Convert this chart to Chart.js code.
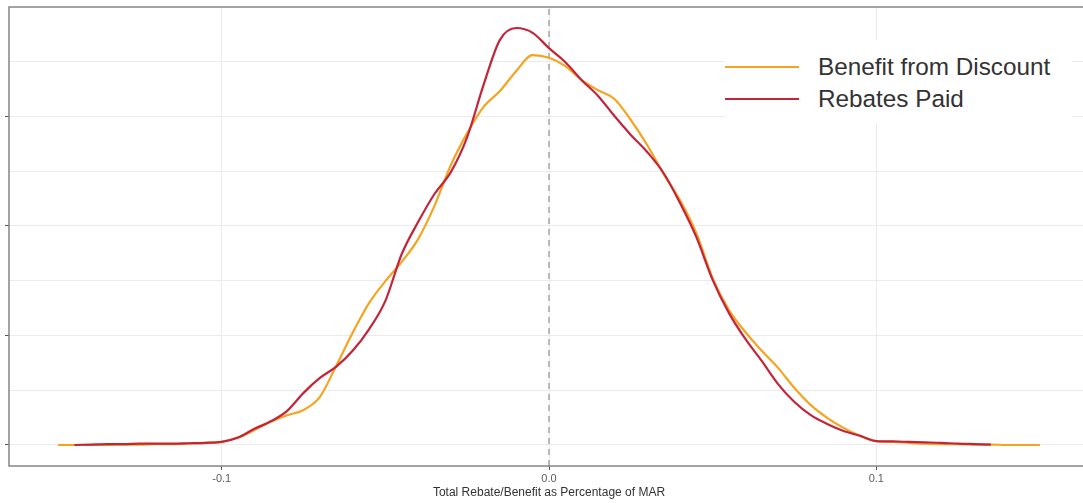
<!DOCTYPE html>
<html>
<head>
<meta charset="utf-8">
<script src="https://cdn.jsdelivr.net/npm/chart.js@4.4.0/dist/chart.umd.min.js"></script>
<style>
  html, body { margin: 0; padding: 0; background: #fff; overflow: hidden; }
  #wrap { position: relative; width: 1095px; height: 503px; }
  #legend { position: absolute; left: 725px; top: 40px; width: 347px; height: 83px; background: #fff;
            font-family: "Liberation Sans", Arial, sans-serif; font-size: 24.3px; color: #333; }
  #legend .row { position: absolute; left: 0; height: 32px; line-height: 32px; white-space: nowrap; }
  #legend .key { position: absolute; left: 0; top: 15px; width: 74px; height: 2px; }
  #legend .lbl { position: absolute; left: 93px; top: 0; }
</style>
</head>
<body>
<div id="wrap">
  <canvas id="densityChart" width="1095" height="503"></canvas>
  <div id="legend"></div>
</div>
<script>
// x positions (share of MAR) where the two density curves were read
var xValues = [-0.150, -0.145, -0.140, -0.135, -0.130, -0.125, -0.120, -0.115, -0.110, -0.105,
               -0.100, -0.095, -0.090, -0.085, -0.080, -0.075, -0.070, -0.065, -0.060, -0.055,
               -0.050, -0.045, -0.040, -0.035, -0.030, -0.025, -0.020, -0.015, -0.010, -0.005,
                0.000,  0.005,  0.010,  0.015,  0.020,  0.025,  0.030,  0.035,  0.040,  0.045,
                0.050,  0.055,  0.060,  0.065,  0.070,  0.075,  0.080,  0.085,  0.090,  0.095,
                0.100,  0.105,  0.110,  0.115,  0.120,  0.125,  0.130,  0.135,  0.140,  0.145,
                0.150];

var benefitFromDiscount = [0.00, 0.00, 0.00, 0.00, 0.01, 0.01, 0.02, 0.02, 0.03, 0.05,
                           0.07, 0.17, 0.34, 0.53, 0.68, 0.80, 1.10, 1.81, 2.56, 3.24,
                           3.74, 4.18, 4.70, 5.46, 6.39, 7.12, 7.72, 8.08, 8.54, 8.90,
                           8.84, 8.65, 8.33, 8.10, 7.90, 7.42, 6.85, 6.19, 5.59, 4.84,
                           3.81, 3.08, 2.58, 2.15, 1.76, 1.30, 0.91, 0.62, 0.39, 0.21,
                           0.09, 0.07, 0.05, 0.03, 0.02, 0.02, 0.01, 0.01, 0.00, 0.00,
                           0.00];

var rebatesPaid = [null, 0.00, 0.01, 0.02, 0.02, 0.03, 0.03, 0.03, 0.04, 0.05,
                   0.07, 0.17, 0.37, 0.54, 0.78, 1.19, 1.53, 1.79, 2.15, 2.64,
                   3.29, 4.36, 5.09, 5.73, 6.23, 7.03, 8.22, 9.25, 9.52, 9.41,
                   9.06, 8.74, 8.33, 7.97, 7.51, 7.08, 6.69, 6.21, 5.53, 4.75,
                   3.77, 3.01, 2.42, 1.92, 1.39, 0.98, 0.68, 0.48, 0.32, 0.21,
                   0.09, 0.08, 0.07, 0.06, 0.05, 0.03, 0.02, 0.01, null, null,
                   null];

var seriesNames = ['Benefit from Discount', 'Rebates Paid'];
var seriesColors = ['#f6a41f', '#c4243a'];

var xMin = -0.165, xMax = 0.165;
var yMin = -0.48, yMax = 10.0;
var xGridValues = [-0.15, -0.1, -0.05, 0, 0.05, 0.1, 0.15];
var xTickValues = [-0.1, 0, 0.1];
var xTickLabels = ['-0.1', '0.0', '0.1'];
var yGridValues = [0, 1.25, 2.5, 3.75, 5, 6.25, 7.5, 8.75];
var yTickValues = [0, 2.5, 5, 7.5];

function pts(ys) {
  return xValues.map(function (x, i) { return { x: x, y: ys[i] }; });
}
function near(v, list) {
  for (var i = 0; i < list.length; i++) if (Math.abs(v - list[i]) < 1e-9) return i;
  return -1;
}

// panel frame drawn on top, like theme_bw
var panelBorder = {
  id: 'panelBorder',
  afterDraw: function (chart) {
    var a = chart.chartArea, ctx = chart.ctx;
    ctx.save();
    ctx.strokeStyle = '#858585';
    ctx.lineWidth = 1.5;
    ctx.strokeRect(a.left, a.top, a.right - a.left, a.bottom - a.top);
    ctx.restore();
  }
};

Chart.defaults.font.family = '"Liberation Sans", Arial, sans-serif';

new Chart(document.getElementById('densityChart'), {
  type: 'line',
  data: {
    datasets: [
      {
        label: seriesNames[1], data: pts(rebatesPaid), borderColor: seriesColors[1],
        borderWidth: 2.2, pointRadius: 0, cubicInterpolationMode: 'monotone', spanGaps: false, order: 0
      },
      {
        label: seriesNames[0], data: pts(benefitFromDiscount), borderColor: seriesColors[0],
        borderWidth: 2.2, pointRadius: 0, cubicInterpolationMode: 'monotone', order: 1
      },
      {
        label: 'zero', data: [{ x: 0, y: yMin }, { x: 0, y: yMax }], borderColor: '#a6a6a6',
        borderWidth: 1.5, borderDash: [6, 5], pointRadius: 0, order: 2
      }
    ]
  },
  options: {
    responsive: false,
    animation: false,
    layout: { padding: { left: 5, top: 7, right: 6, bottom: 0 } },
    plugins: { legend: { display: false }, tooltip: { enabled: false } },
    scales: {
      x: {
        type: 'linear', min: xMin, max: xMax,
        afterBuildTicks: function (s) { s.ticks = xGridValues.map(function (v) { return { value: v }; }); },
        afterFit: function (s) { s.height = 37; },
        grid: {
          color: '#ebebeb', lineWidth: 1, tickLength: 4,
          tickColor: function (c) { return near(c.tick.value, xTickValues) >= 0 ? '#555' : 'rgba(0,0,0,0)'; }
        },
        border: { display: false },
        ticks: {
          padding: 3.5, color: '#5c5c5c', font: { size: 11, lineHeight: 1 }, maxRotation: 0, autoSkip: false,
          callback: function (v) { var i = near(v, xTickValues); return i >= 0 ? xTickLabels[i] : null; }
        },
        title: {
          display: true, text: 'Total Rebate/Benefit as Percentage of MAR', color: '#333',
          font: { size: 12, lineHeight: 1 }, padding: { top: 0, bottom: 4 }
        }
      },
      y: {
        min: yMin, max: yMax,
        afterBuildTicks: function (s) { s.ticks = yGridValues.map(function (v) { return { value: v }; }); },
        grid: {
          color: '#ebebeb', lineWidth: 1, tickLength: 4,
          tickColor: function (c) { return near(c.tick.value, yTickValues) >= 0 ? '#555' : 'rgba(0,0,0,0)'; }
        },
        border: { display: false },
        ticks: { display: false }
      }
    }
  },
  plugins: [panelBorder]
});

// legend box inside the panel
var legend = document.getElementById('legend');
seriesNames.forEach(function (name, i) {
  var row = document.createElement('div');
  row.className = 'row';
  row.style.top = (11 + i * 32) + 'px';
  row.style.width = '100%';
  var key = document.createElement('span');
  key.className = 'key';
  key.style.background = seriesColors[i];
  var lbl = document.createElement('span');
  lbl.className = 'lbl';
  lbl.textContent = name;
  row.appendChild(key);
  row.appendChild(lbl);
  legend.appendChild(row);
});
</script>
</body>
</html>
